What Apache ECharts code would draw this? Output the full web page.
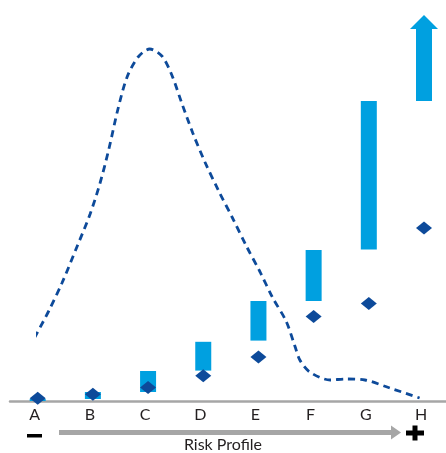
<!DOCTYPE html>
<html>
<head>
<meta charset="utf-8">
<script src="https://cdn.jsdelivr.net/npm/echarts@6/dist/echarts.min.js"></script>
<style>
  * { margin: 0; padding: 0; }
  html, body { width: 446px; height: 453px; background: #fff; overflow: hidden; }
  #main { width: 446px; height: 453px; }
</style>
</head>
<body>
<div id="main"></div>
<script>
// categories on the risk scale
var categories = ['A', 'B', 'C', 'D', 'E', 'F', 'G', 'H'];
// light blue range bars: bottom and top of each bar
var barLow  = [0, 0.5, 2.25, 7.6, 15.1, 25, 37.9, 75];
var barHigh = [0.5, 2.25, 7.5, 14.8, 25, 37.75, 75, 93];
// dark blue diamonds
var pointValues = [0.7, 1.7, 3.4, 6.3, 11, 21.1, 24.4, 43.25];
// arrow head on top of the last bar
var arrowValue = 94.75;
// dashed curve, x = position on the category scale (0 = A ... 7 = H)
var curveX = [-0.06, 0.20, 0.44, 0.71, 0.95, 1.13, 1.29, 1.45, 1.62, 1.82, 2.03, 2.25, 2.43, 2.61, 2.81,
              3.03, 3.28, 3.54, 3.79, 4.03, 4.26, 4.50, 4.66, 4.75, 4.93, 5.30, 5.57, 5.93, 6.38, 6.92];
var curveY = [15.75, 22.5, 29.5, 38.5, 46.75, 54.5, 63, 72.75, 81, 86, 88, 86.25, 81.5, 74.5, 67,
              59.75, 52.5, 45.5, 38.5, 32.25, 25.75, 20, 13.75, 10.25, 7.25, 5.25, 5.5, 5.25, 3.25, 0.75];

var lightBlue = '#00a0e0';
var darkBlue = '#0d4a9a';
var grey = '#a6a6a6';

var barSize = [];
for (var i = 0; i < barLow.length; i++) {
  barSize.push(barHigh[i] - barLow[i]);
}
var curveData = [];
for (var j = 0; j < curveX.length; j++) {
  curveData.push([curveX[j], curveY[j]]);
}

var mycharts = echarts.init(document.getElementById('main'));
var option = {
  animation: false,
  grid: [
    { left: 37.7, right: 22, top: 1, bottom: 52 },
    { left: 10, right: 0, top: 1, bottom: 52 }   // only for the long grey baseline
  ],
  xAxis: [{
    type: 'category',
    gridIndex: 0,
    boundaryGap: false,
    data: categories,
    axisLine: { show: false },
    axisTick: { show: false },
    axisLabel: {
      margin: 6,
      padding: [0, 6, 0, 0],
      fontSize: 16,
      fontFamily: 'Lato',
      color: '#231f20'
    }
  }, {
    type: 'value',
    gridIndex: 0,
    min: 0,
    max: 7,
    show: false
  }, {
    type: 'value',
    gridIndex: 1,
    min: 0,
    max: 1,
    axisLine: { show: true, onZero: false, lineStyle: { color: grey, width: 2.5 } },
    axisTick: { show: false },
    axisLabel: { show: false },
    splitLine: { show: false }
  }],
  yAxis: [{
    type: 'value',
    gridIndex: 0,
    min: 0,
    max: 100,
    show: false
  }, {
    type: 'value',
    gridIndex: 1,
    min: 0,
    max: 100,
    show: false
  }],
  series: [{
    type: 'bar',
    stack: 'range',
    data: barLow,
    barWidth: 16,
    clip: false,
    itemStyle: { color: 'transparent' },
    silent: true
  }, {
    type: 'bar',
    stack: 'range',
    data: barSize,
    barWidth: 16,
    clip: false,
    itemStyle: { color: lightBlue }
  }, {
    type: 'scatter',
    data: [[categories[7], arrowValue]],
    symbol: 'triangle',
    symbolSize: [28, 14],
    clip: false,
    itemStyle: { color: lightBlue, opacity: 1 }
  }, {
    type: 'scatter',
    data: pointValues,
    symbol: 'diamond',
    symbolSize: [16, 13],
    clip: false,
    z: 4,
    itemStyle: { color: darkBlue, opacity: 1 }
  }, {
    type: 'line',
    xAxisIndex: 1,
    data: curveData,
    smooth: 0.3,
    showSymbol: false,
    clip: false,
    z: 5,
    lineStyle: { color: darkBlue, width: 2.8, type: [7, 5] }
  }],
  graphic: [
    // minus sign
    { type: 'rect', left: 27, top: 434, shape: { width: 15, height: 3.5 }, style: { fill: '#000' } },
    // plus sign
    { type: 'rect', left: 406, top: 430.5, shape: { width: 18, height: 5 }, style: { fill: '#000' } },
    { type: 'rect', left: 412.5, top: 425.5, shape: { width: 5, height: 15 }, style: { fill: '#000' } },
    // grey arrow
    { type: 'line', shape: { x1: 59, y1: 432.5, x2: 392, y2: 432.5 }, style: { stroke: grey, lineWidth: 5 } },
    { type: 'polygon', shape: { points: [[391, 425.5], [401, 432.5], [391, 439.5]] }, style: { fill: grey } },
    {
      type: 'text', x: 223, y: 445,
      style: { text: 'Risk Profile', fontSize: 16, fontFamily: 'Lato', fill: '#231f20', align: 'center', verticalAlign: 'middle' }
    }
  ]
};
mycharts.setOption(option);
</script>
</body>
</html>
